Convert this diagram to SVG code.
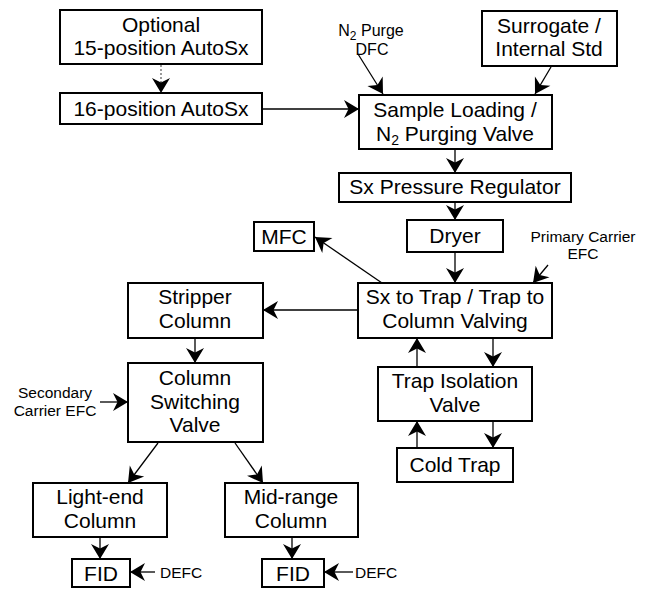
<svg xmlns="http://www.w3.org/2000/svg" width="652" height="589" viewBox="0 0 652 589">
<defs>
<marker id="ah" markerUnits="userSpaceOnUse" markerWidth="20" markerHeight="22" viewBox="-17 -11 19 22" refX="0" refY="0" orient="auto">
<path d="M0,0 L-15,-9 L-10.5,0 L-15,9 Z" fill="#000"/>
</marker>
<style>
.box{fill:#fff;stroke:#000;stroke-width:2}
.t{font-family:"Liberation Sans",Arial,sans-serif;font-size:21px;text-anchor:middle;fill:#000}
.s{font-family:"Liberation Sans",Arial,sans-serif;font-size:15.5px;text-anchor:middle;fill:#000}
.c{stroke:#000;stroke-width:1.3;fill:none;marker-end:url(#ah)}
.d{stroke:#666;stroke-width:1.3;stroke-dasharray:2 2;fill:none;marker-end:url(#ah)}
</style>
</defs>
<rect width="652" height="589" fill="#fff"/>
<g id="connectors">
<line class="d" x1="161" y1="65" x2="161" y2="93"/>
<line class="c" x1="262" y1="109" x2="359" y2="109"/>
<line class="c" x1="358" y1="54" x2="383" y2="94"/>
<line class="c" x1="551" y1="67" x2="535" y2="94"/>
<line class="c" x1="455" y1="149" x2="455" y2="173"/>
<line class="c" x1="455" y1="202" x2="455" y2="220"/>
<line class="c" x1="455" y1="252" x2="455" y2="283"/>
<line class="c" x1="548" y1="265" x2="533" y2="283"/>
<line class="c" x1="382" y1="283" x2="315" y2="237"/>
<line class="c" x1="358" y1="310" x2="263" y2="310"/>
<line class="c" x1="195" y1="338" x2="195" y2="363"/>
<line class="c" x1="100" y1="402" x2="128" y2="402"/>
<line class="c" x1="158" y1="443" x2="128" y2="483"/>
<line class="c" x1="235" y1="443" x2="263" y2="483"/>
<line class="c" x1="100" y1="537" x2="100" y2="559"/>
<line class="c" x1="292" y1="537" x2="292" y2="559"/>
<line class="c" x1="155" y1="572" x2="130" y2="572"/>
<line class="c" x1="353" y1="572" x2="324" y2="572"/>
<line class="c" x1="417" y1="367" x2="417" y2="338"/>
<line class="c" x1="493" y1="338" x2="493" y2="367"/>
<line class="c" x1="417" y1="448" x2="417" y2="421"/>
<line class="c" x1="493" y1="421" x2="493" y2="448"/>
</g>
<g id="optional">
<rect class="box" x="60" y="10" width="202" height="54"/>
<text class="t" x="161" y="32">Optional</text>
<text class="t" x="161" y="55">15-position AutoSx</text>
</g>
<g id="autosx16">
<rect class="box" x="60" y="93" width="202" height="31"/>
<text class="t" x="161" y="116">16-position AutoSx</text>
</g>
<g id="n2purge">
<text class="s" x="371" y="36" style="font-size:16px">N<tspan font-size="12" dy="4">2</tspan><tspan dy="-4"> Purge</tspan></text>
<text class="s" x="372" y="55" style="font-size:16px">DFC</text>
</g>
<g id="surrogate">
<rect class="box" x="482" y="11" width="135" height="55"/>
<text class="t" x="549" y="33">Surrogate /</text>
<text class="t" x="549" y="56">Internal Std</text>
</g>
<g id="sampleloading">
<rect class="box" x="359" y="95" width="193" height="54"/>
<text class="t" x="455" y="117">Sample Loading /</text>
<text class="t" x="455" y="141">N<tspan font-size="14" dy="4">2</tspan><tspan dy="-4"> Purging Valve</tspan></text>
</g>
<g id="pressureregulator">
<rect class="box" x="339" y="173" width="232" height="29"/>
<text class="t" x="455" y="194">Sx Pressure Regulator</text>
</g>
<g id="dryer">
<rect class="box" x="407" y="220" width="96" height="32"/>
<text class="t" x="455" y="243">Dryer</text>
</g>
<g id="mfc">
<rect class="box" x="254" y="222" width="60" height="29"/>
<text class="t" x="284" y="244">MFC</text>
</g>
<g id="primarycarrier">
<text class="s" x="583" y="242">Primary Carrier</text>
<text class="s" x="583" y="259">EFC</text>
</g>
<g id="sxtotrap">
<rect class="box" x="358" y="283" width="194" height="55"/>
<text class="t" x="455" y="304">Sx to Trap / Trap to</text>
<text class="t" x="455" y="328">Column Valving</text>
</g>
<g id="stripper">
<rect class="box" x="128" y="283" width="135" height="55"/>
<text class="t" x="195" y="304">Stripper</text>
<text class="t" x="195" y="328">Column</text>
</g>
<g id="switching">
<rect class="box" x="128" y="363" width="135" height="79"/>
<text class="t" x="195" y="385">Column</text>
<text class="t" x="195" y="409">Switching</text>
<text class="t" x="195" y="432">Valve</text>
</g>
<g id="secondarycarrier">
<text class="s" x="55" y="398">Secondary</text>
<text class="s" x="55" y="416">Carrier EFC</text>
</g>
<g id="trapisolation">
<rect class="box" x="378" y="367" width="154" height="54"/>
<text class="t" x="455" y="388">Trap Isolation</text>
<text class="t" x="455" y="412">Valve</text>
</g>
<g id="coldtrap">
<rect class="box" x="397" y="448" width="116" height="34"/>
<text class="t" x="455" y="472">Cold Trap</text>
</g>
<g id="lightend">
<rect class="box" x="33" y="483" width="134" height="54"/>
<text class="t" x="100" y="504">Light-end</text>
<text class="t" x="100" y="528">Column</text>
</g>
<g id="midrange">
<rect class="box" x="225" y="483" width="133" height="54"/>
<text class="t" x="291" y="504">Mid-range</text>
<text class="t" x="291" y="528">Column</text>
</g>
<g id="fid1">
<rect class="box" x="72" y="559" width="58" height="28"/>
<text class="t" x="101" y="581">FID</text>
</g>
<g id="fid2">
<rect class="box" x="262" y="559" width="62" height="28"/>
<text class="t" x="293" y="581">FID</text>
</g>
<g id="defc1">
<text class="s" x="160" y="578" style="text-anchor:start">DEFC</text>
</g>
<g id="defc2">
<text class="s" x="355" y="578" style="text-anchor:start">DEFC</text>
</g>
</svg>
